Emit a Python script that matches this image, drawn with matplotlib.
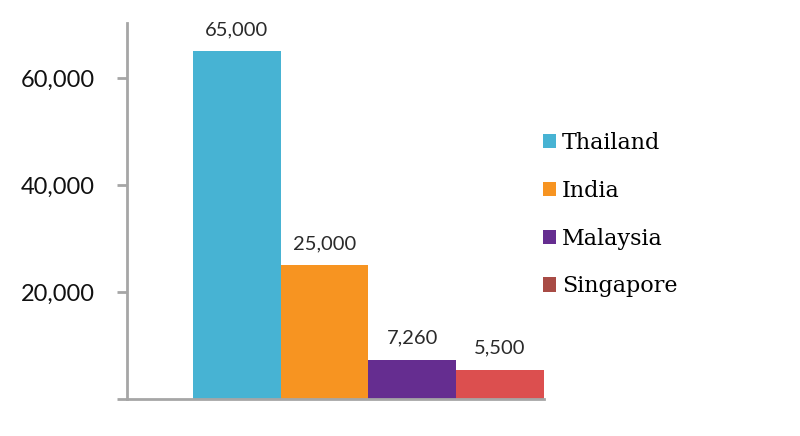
import matplotlib
matplotlib.use("Agg")
import matplotlib.pyplot as plt
from matplotlib.patches import Patch
from matplotlib.ticker import FuncFormatter

countries = ["Thailand", "India", "Malaysia", "Singapore"]
values = [65000, 25000, 7260, 5500]
bar_colors = ["#47b3d3", "#f79421", "#652d90", "#dc4f4f"]
legend_colors = ["#47b3d3", "#f79421", "#652d90", "#a84b45"]
yticks = [20000, 40000, 60000]

fig = plt.figure(figsize=(8, 4.36), dpi=100)
ax = fig.add_axes([127 / 800, 1 - 399 / 436, (544 - 127) / 800, (399 - 23) / 436])

x = list(range(len(countries)))
ax.bar(x, values, width=1.0, color=bar_colors, edgecolor="none")
for xi, v in zip(x, values):
    ax.text(xi, v + 2500, f"{v:,}", ha="center", va="bottom",
            fontsize=14.5, family="Lato", color="#2a2a2a")

ax.set_xlim(-1.25, 3.5)
ax.set_ylim(0, 70300)
ax.set_yticks([0] + yticks)
ax.yaxis.set_major_formatter(FuncFormatter(lambda v, p: "" if v == 0 else f"{v:,.0f}"))
ax.set_xticks([])
ax.tick_params(axis="y", length=7, width=2, color="#a6a6a6", pad=16,
               labelsize=17, labelcolor="#111111")
for lab in ax.get_yticklabels():
    lab.set_family("Lato")

for s in ["top", "right"]:
    ax.spines[s].set_visible(False)
for s in ["left", "bottom"]:
    ax.spines[s].set_color("#a6a6a6")
    ax.spines[s].set_linewidth(2)

handles = [Patch(facecolor=c, edgecolor="none") for c in legend_colors]
fig.legend(handles, countries, loc="upper left", bbox_to_anchor=(523 / 800, 1 - 112 / 436),
           frameon=False, prop={"family": "DejaVu Serif", "size": 16},
           handlelength=0.6, handleheight=0.6, handletextpad=0.25, labelspacing=1.16)

fig.savefig("out.png", dpi=100)
